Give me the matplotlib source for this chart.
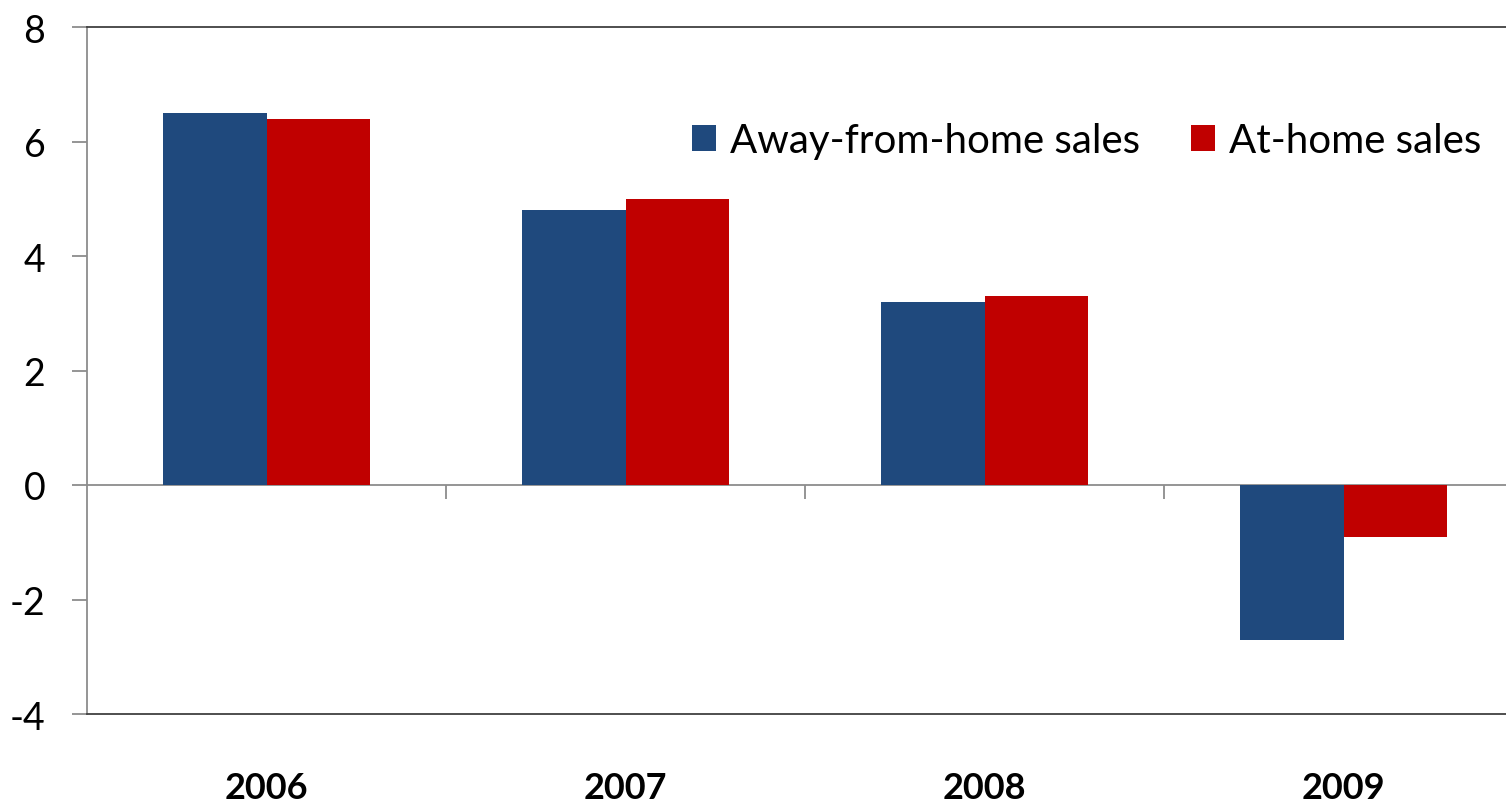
import matplotlib
matplotlib.use("Agg")
import matplotlib.pyplot as plt
import numpy as np

years = ["2006", "2007", "2008", "2009"]
away_from_home = [6.5, 4.8, 3.2, -2.7]
at_home = [6.4, 5.0, 3.3, -0.9]

BLUE = "#1F497D"
RED = "#C00000"

plt.rcParams["font.family"] = ["Lato", "DejaVu Sans"]
plt.rcParams["axes.unicode_minus"] = False

fig = plt.figure(figsize=(15.06, 8.04), dpi=100)
# plot area runs a little past the right edge, as in the original
ax = fig.add_axes([87 / 1506, 1 - 715 / 804, 1436 / 1506, 687 / 804])

x = np.arange(len(years))
w = 0.287
ax.bar(x, away_from_home, width=-w, align="edge", color=BLUE, label="Away-from-home sales")
ax.bar(x, at_home, width=w, align="edge", color=RED, label="At-home sales")

ax.set_xlim(-0.5, len(years) - 0.5)
ax.set_ylim(-4, 8)
ax.set_yticks(np.arange(-4, 9, 2))

# spines
ax.spines["right"].set_visible(False)
ax.spines["left"].set_color("#8c8c8c")
ax.spines["top"].set_color("#404040")
ax.spines["bottom"].set_color("#404040")
for s in ["left", "top", "bottom"]:
    ax.spines[s].set_linewidth(1.3)

ax.tick_params(axis="y", length=11, width=1.3, color="#8c8c8c", pad=19, labelsize=27)
ax.set_xticks(x)
ax.set_xticklabels(years)
ax.tick_params(axis="x", length=0, pad=41, labelsize=26)
for lbl in ax.get_xticklabels():
    lbl.set_fontweight("bold")

# zero line with category divider ticks
zero = ax.secondary_xaxis(1 / 3)
zero.set_xticks(x[:-1] + 0.5)
zero.set_xticklabels([])
zero.tick_params(axis="x", direction="out", length=10, width=1.3, color="#8c8c8c")
zero.spines["bottom"].set_color("#8c8c8c")
zero.spines["bottom"].set_linewidth(1.3)

leg = ax.legend(loc="upper left", bbox_to_anchor=(589 / 1436, 0.885), ncol=2, frameon=False,
                fontsize=29, handlelength=0.6, handleheight=0.6, handletextpad=0.35,
                columnspacing=1.25, borderaxespad=0)

fig.savefig("out.png", dpi=100)
